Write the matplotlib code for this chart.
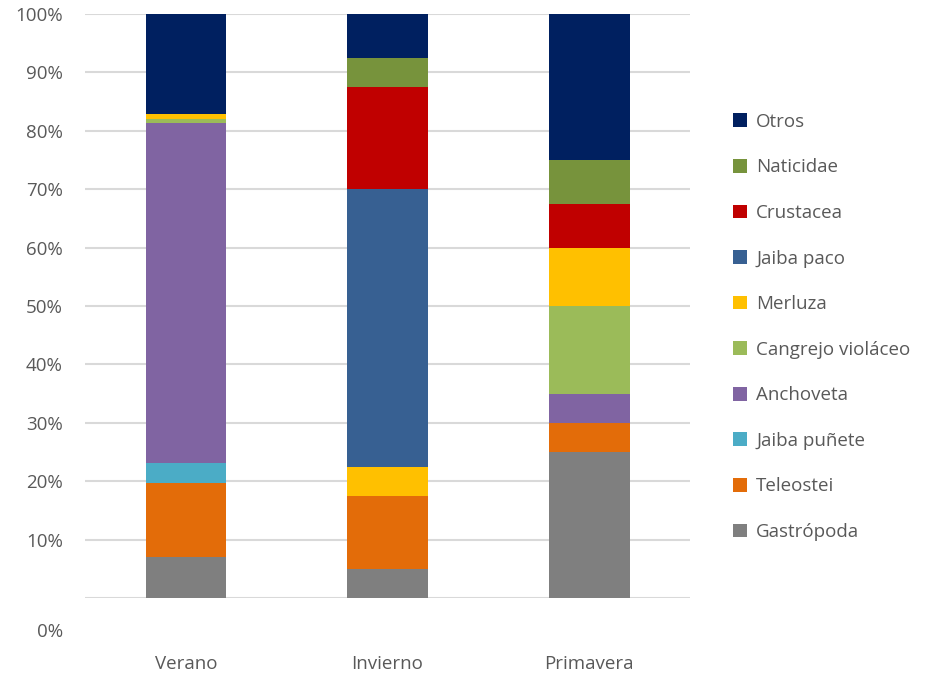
import matplotlib.pyplot as plt
import numpy as np

# === Dados (porcentagem por estação) ===
seasons = ["Verano", "Invierno", "Primavera"]
species = ["Gastrópoda", "Teleostei", "Jaiba puñete", "Anchoveta",
           "Cangrejo violáceo", "Merluza", "Jaiba paco", "Crustacea",
           "Naticidae", "Otros"]
gastropoda = [7.0, 5.0, 25.0]
teleostei = [12.7, 12.5, 5.0]
jaiba_punete = [3.4, 0.0, 0.0]
anchoveta = [58.2, 0.0, 5.0]
cangrejo = [0.7, 0.0, 15.0]
merluza = [0.9, 5.0, 10.0]
jaiba_paco = [0.0, 47.5, 0.0]
crustacea = [0.0, 17.5, 7.5]
naticidae = [0.0, 5.0, 7.5]
otros = [17.1, 7.5, 25.0]

series = [gastropoda, teleostei, jaiba_punete, anchoveta, cangrejo,
          merluza, jaiba_paco, crustacea, naticidae, otros]
colors = ["#7F7F7F", "#E36C09", "#4BACC6", "#8064A2", "#9BBB59",
          "#FFC000", "#376092", "#C00000", "#77933C", "#002060"]

plt.rcParams['font.family'] = ['Open Sans', 'DejaVu Sans']
grey = "#595959"
fs = 13.5

fig = plt.figure(figsize=(9.3, 6.77), dpi=100)
ax = fig.add_axes([85 / 930, 1 - 598 / 677, 605 / 930, 584 / 677])

x = np.arange(len(seasons))
bottom = np.zeros(len(seasons))
handles = []
for vals, col, name in zip(series, colors, species):
    v = np.array(vals) / 100
    b = ax.bar(x, v, 0.4, bottom=bottom, color=col, label=name, zorder=3)
    handles.append(b)
    bottom += v

ax.set_xlim(-0.5, 2.5)
ax.set_ylim(0, 1)
yt = np.arange(0.1, 1.01, 0.1)
ax.set_yticks(np.concatenate([[0], yt]))
ax.set_yticklabels([""] + [f"{int(round(t * 100))}%" for t in yt])
ax.yaxis.grid(True, color="#D9D9D9", linewidth=1.5, zorder=0)
ax.tick_params(axis="y", length=0, labelsize=fs, labelcolor=grey, pad=16)
ax.set_xticks([])
for s in ax.spines.values():
    s.set_visible(False)

# rótulo 0% deslocado para baixo, como no original
ax.text(-22 / 605, -0.058, "0%", transform=ax.transAxes,
        ha="right", va="center", fontsize=fs, color=grey)
for xi, name in zip(x, seasons):
    ax.text(xi, -0.113, name, ha="center", va="center", fontsize=fs, color=grey)

fig.legend(handles[::-1], species[::-1], loc="upper left",
           bbox_to_anchor=(716 / 930, 1 - 96 / 677), frameon=False,
           fontsize=fs, labelcolor=grey, handlelength=0.75, handleheight=0.75,
           handletextpad=0.5, labelspacing=1.47)

fig.savefig("out.png", dpi=100)
